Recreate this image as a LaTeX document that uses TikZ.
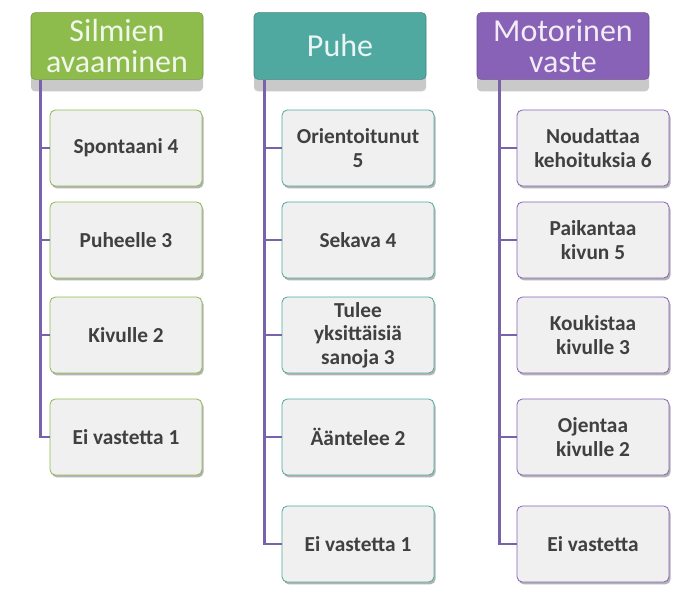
\documentclass[tikz,border=0pt]{standalone}
\usepackage{fontspec}
\setmainfont{Carlito}
\usetikzlibrary{shadows}
\definecolor{grn}{HTML}{8DBB4C}
\definecolor{tea}{HTML}{4FA9A0}
\definecolor{pur}{HTML}{8762B6}
\definecolor{trunkc}{HTML}{7A62AA}
\tikzset{
  hdr/.style={draw=#1!80!black, fill=#1, rounded corners=3pt,
    minimum width=129pt, minimum height=50pt, align=center, inner sep=1pt,
    text=#1!12!white, font=\fontsize{24}{23}\selectfont,
    drop shadow={shadow xshift=0pt, shadow yshift=-9pt, opacity=0.3, fill=black!70}},
  item/.style={draw=#1, line width=0.6pt, fill=black!6, rounded corners=4pt,
    minimum width=114pt, minimum height=57pt, align=center, inner sep=2pt,
    text=black!75, font=\bfseries\fontsize{16}{17.5}\selectfont,
    drop shadow={shadow xshift=1.2pt, shadow yshift=-1.8pt, opacity=0.6}},
  trunk/.style={draw=trunkc, line width=2.2pt}
}
\begin{document}
\begin{tikzpicture}[x=0.75pt,y=-0.75pt]
  \useasboundingbox (0,0) rectangle (686,594);
  \node[hdr=grn] (s) at (117,46) {Silmien\\avaaminen};
  \node[hdr=tea] (p) at (340,46) {Puhe};
  \node[hdr=pur] (m) at (563,46) {Motorinen\\vaste};

  \node[item=grn] (s1) at (126,148) {Spontaani 4};
  \node[item=grn] (s2) at (126,240) {Puheelle 3};
  \node[item=grn] (s3) at (126,335) {Kivulle 2};
  \node[item=grn] (s4) at (126,437) {Ei vastetta 1};

  \node[item=tea] (p1) at (358,148) {Orientoitunut\\5};
  \node[item=tea] (p2) at (358,240) {Sekava 4};
  \node[item=tea] (p3) at (358,335) {Tulee\\yksittäisiä\\sanoja 3};
  \node[item=tea] (p4) at (358,437) {Ääntelee 2};
  \node[item=tea] (p5) at (358,544) {Ei vastetta 1};

  \node[item=pur] (m1) at (593,148) {Noudattaa\\kehoituksia 6};
  \node[item=pur] (m2) at (593,240) {Paikantaa\\kivun 5};
  \node[item=pur] (m3) at (593,335) {Koukistaa\\kivulle 3};
  \node[item=pur] (m4) at (593,437) {Ojentaa\\kivulle 2};
  \node[item=pur] (m5) at (593,544) {Ei vastetta};

  \foreach \i in {1,...,4}
    \draw[trunk] ([xshift=7pt]s.south west) |- (s\i.west);
  \foreach \i in {1,...,5}
    \draw[trunk] ([xshift=8pt]p.south west) |- (p\i.west);
  \foreach \i in {1,...,5}
    \draw[trunk] ([xshift=17pt]m.south west) |- (m\i.west);
\end{tikzpicture}
\end{document}
